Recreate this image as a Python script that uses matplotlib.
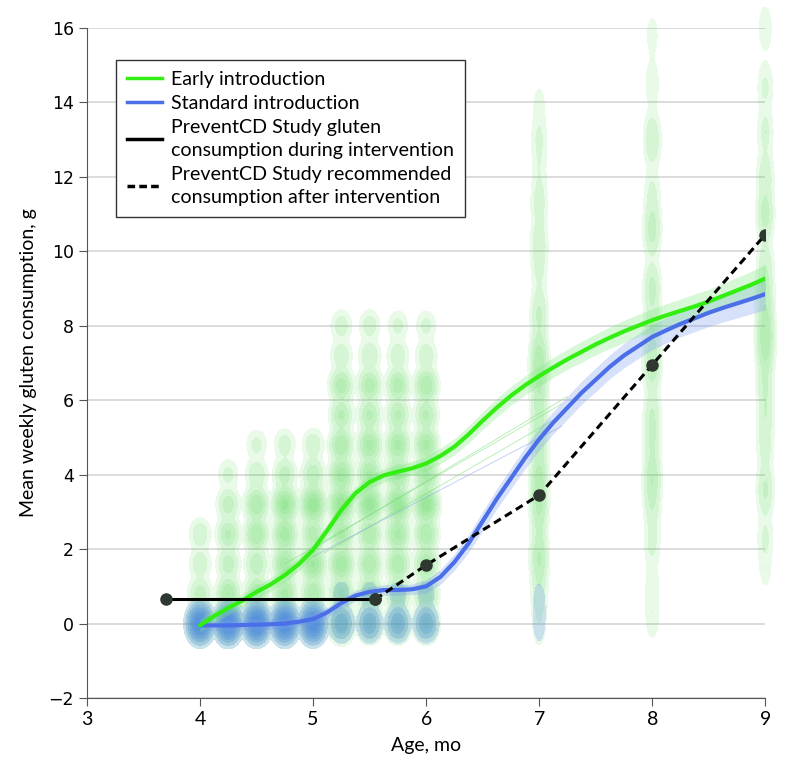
import numpy as np
import matplotlib
matplotlib.use("Agg")
import matplotlib.pyplot as plt
from matplotlib.lines import Line2D

plt.rcParams['font.family'] = ['Lato', 'DejaVu Sans']

## Data
# observed weekly gluten amounts per visit age: (value, relative count)
early_obs = {
    4.0: [(0, 10), (0.8, 1), (1.6, 0.5), (2.4, 0.5)],
    4.25: [(0, 10), (0.8, 2.5), (1.6, 1), (2.4, 1.5), (3.2, 1), (4.0, 0.3)],
    4.5: [(0, 10), (0.8, 2.5), (1.6, 1.2), (2.4, 2.5), (3.2, 2.5), (4.0, 0.6), (4.8, 0.3)],
    4.75: [(0, 9), (0.8, 3), (1.6, 3.5), (2.4, 3.5), (3.2, 5), (4.0, 1), (4.8, 0.4)],
    5.0: [(0, 8), (0.8, 2.5), (1.6, 4.5), (2.4, 2), (3.2, 6), (4.0, 1.2), (4.8, 0.5)],
    5.25: [(0, 4), (0.8, 3), (1.6, 4), (2.4, 3), (3.2, 6), (4.0, 3.5), (4.8, 2.5), (5.6, 1.5), (6.4, 2), (7.2, 0.5), (8.0, 0.4)],
    5.5: [(0, 3), (0.8, 3), (1.6, 2.5), (2.4, 2.5), (3.2, 6), (4.0, 3), (4.8, 3), (5.6, 1.5), (6.4, 2), (7.2, 0.6), (8.0, 0.4)],
    5.75: [(0, 3), (0.8, 2.5), (1.6, 2.5), (2.4, 3), (3.2, 6), (4.0, 3), (4.8, 3), (5.6, 1.5), (6.4, 2), (7.2, 0.5), (8.0, 0.3)],
    6.0: [(0, 3), (0.8, 2.5), (1.6, 2.5), (2.4, 2.5), (3.2, 6), (4.0, 3), (4.8, 3), (5.6, 1.5), (6.4, 2.5), (7.2, 0.5), (8.0, 0.3)],
    7.0: [(0, 0.15), (0.8, 0.4), (1.7, 1.3), (2.4, 0.4), (3.2, 1.4), (3.9, 1.7), (5.0, 1.1), (5.8, 0.7), (6.5, 1.1),
          (7.1, 1.9), (8.3, 0.7), (9.5, 0.25), (10.2, 0.5), (11.3, 0.4), (12.2, 0.15), (13.0, 0.25), (13.9, 0.1)],
    8.0: [(0.2, 0.15), (1.0, 0.15), (2.2, 0.3), (3.2, 0.5), (3.9, 1.2), (4.9, 0.6), (5.6, 0.6), (7.0, 1.3), (8.0, 0.6),
          (9.0, 0.8), (10.6, 0.9), (11.5, 0.3), (13.0, 0.6), (14.5, 0.15), (15.8, 0.1)],
    9.0: [(1.5, 0.1), (2.3, 0.25), (3.6, 0.7), (4.8, 0.4), (5.6, 0.5), (6.4, 0.6), (7.4, 1.6), (8.0, 1.6), (8.8, 0.9),
          (9.6, 0.5), (11.0, 0.9), (12.0, 0.5), (13.2, 0.3), (14.4, 0.25), (16.0, 0.15)],
}
standard_obs = {
    4.0: [(0, 9)],
    4.25: [(0, 10)],
    4.5: [(0, 10)],
    4.75: [(0, 10)],
    5.0: [(0, 9)],
    5.25: [(0, 1.3), (0.8, 0.15)],
    5.5: [(0, 1.3), (0.8, 0.15)],
    5.75: [(0, 1.3), (0.8, 0.15)],
    6.0: [(0, 1.3), (0.8, 0.15)],
    7.0: [(0, 0.1), (0.6, 0.1)],
    8.0: [(0.3, 0.05), (5.0, 0.05)],
    9.0: [(1.5, 0.05), (6.0, 0.05), (13.2, 0.05)],
}

# smoothed means with confidence band half-widths
age_fit = [4.0, 4.125, 4.25, 4.375, 4.5, 4.625, 4.75, 4.875, 5.0, 5.125, 5.25, 5.375, 5.5, 5.625,
           5.75, 5.875, 6.0, 6.125, 6.25, 6.375, 6.5, 6.625, 6.75, 6.875, 7.0, 7.125, 7.25, 7.375,
           7.5, 7.625, 7.75, 7.875, 8.0, 8.125, 8.25, 8.375, 8.5, 8.625, 8.75, 8.875, 9.0]
early_fit = [-0.05, 0.2, 0.42, 0.62, 0.85, 1.05, 1.3, 1.6, 1.98, 2.5, 3.05, 3.5, 3.8, 3.98,
             4.08, 4.17, 4.3, 4.5, 4.75, 5.08, 5.45, 5.8, 6.12, 6.4, 6.65, 6.88, 7.1, 7.3,
             7.5, 7.68, 7.85, 8.0, 8.15, 8.28, 8.4, 8.52, 8.65, 8.8, 8.95, 9.1, 9.27]
early_ci = [0.18, 0.18, 0.18, 0.18, 0.18, 0.18, 0.18, 0.18, 0.18, 0.18, 0.18, 0.18, 0.18, 0.18,
            0.18, 0.18, 0.2, 0.21, 0.22, 0.23, 0.24, 0.25, 0.25, 0.26, 0.26, 0.27, 0.27, 0.28,
            0.28, 0.29, 0.3, 0.3, 0.31, 0.31, 0.32, 0.33, 0.33, 0.34, 0.35, 0.36, 0.38]
standard_fit = [-0.05, -0.05, -0.05, -0.04, -0.03, -0.02, 0.0, 0.05, 0.12, 0.3, 0.55, 0.75, 0.85, 0.9,
                0.9, 0.92, 1.0, 1.25, 1.65, 2.15, 2.75, 3.35, 3.9, 4.45, 4.95, 5.4, 5.8, 6.2,
                6.55, 6.9, 7.2, 7.45, 7.7, 7.88, 8.05, 8.2, 8.35, 8.48, 8.6, 8.72, 8.85]
standard_ci = [0.14, 0.14, 0.14, 0.14, 0.14, 0.14, 0.14, 0.14, 0.14, 0.14, 0.14, 0.14, 0.14, 0.14,
               0.14, 0.14, 0.18, 0.2, 0.22, 0.24, 0.26, 0.27, 0.28, 0.29, 0.3, 0.3, 0.31, 0.31,
               0.32, 0.32, 0.33, 0.33, 0.34, 0.34, 0.35, 0.36, 0.37, 0.38, 0.39, 0.4, 0.42]

# faint individual trend lines
faint_early = [([4.75, 7.2], [1.6, 5.9]), ([5.0, 7.25], [2.0, 6.1]), ([5.1, 7.2], [1.9, 5.6])]
faint_standard = [([5.0, 7.2], [1.8, 5.3])]

# PreventCD study reference
during_x = [3.7, 5.55]
during_y = [0.65, 0.65]
after_x = [5.55, 6.0, 7.0, 8.0, 9.0]
after_y = [0.65, 1.57, 3.45, 6.95, 10.45]


def density(obs, X, Y):
    Z = np.zeros_like(X)
    for age, pts in obs.items():
        bx, by = (0.045, 0.21) if age <= 6 else (0.036, 0.38)
        for val, cnt in pts:
            Z += cnt * np.exp(-0.5 * ((X - age) / bx) ** 2 - 0.5 * ((Y - val) / by) ** 2)
    return Z


fig = plt.figure(figsize=(7.98, 7.77), dpi=100)
ax = fig.add_axes([0.109, 0.1017, 0.85, 0.8623])

gx = np.linspace(3.6, 9.4, 700)
gy = np.linspace(-1.5, 16.9, 900)
X, Y = np.meshgrid(gx, gy)

fracs = [0.005, 0.02, 0.06, 0.13, 0.25, 0.42, 0.65]
for obs, color, alpha in [(early_obs, '#4cd84c', 0.12), (standard_obs, '#4a7ff2', 0.2)]:
    Z = density(obs, X, Y)
    zmax = Z.max()
    for f in fracs:
        cs = ax.contourf(X, Y, Z, levels=[f * zmax, zmax * 10], colors=[color], alpha=alpha, zorder=2)
        cs.set_clip_on(False)

for xs, ys in faint_early:
    ax.plot(xs, ys, color='#7ee07e', lw=0.6, alpha=0.6, zorder=3)
for xs, ys in faint_standard:
    ax.plot(xs, ys, color='#8fa6e8', lw=0.6, alpha=0.6, zorder=3)

fx = np.array(age_fit)
ey, ec = np.array(early_fit), np.array(early_ci)
sy, sc = np.array(standard_fit), np.array(standard_ci)
ax.fill_between(fx, sy - sc, sy + sc, color='#7d9cf0', alpha=0.3, lw=0, zorder=4)
ax.fill_between(fx, ey - ec, ey + ec, color='#7de87d', alpha=0.3, lw=0, zorder=4)
ax.plot(fx, sy, color='#4a6fe8', lw=3, zorder=5, solid_capstyle='round', solid_joinstyle='round')
ax.plot(fx, ey, color='#33ee11', lw=3, zorder=5, solid_capstyle='round', solid_joinstyle='round')

ax.plot(during_x, during_y, color='black', lw=2.2, marker='o', ms=8, mfc='#2e3830', mec='#2e3830', zorder=6)
ax.plot(after_x, after_y, color='black', lw=2.2, ls=(0, (2.6, 1.6)), marker='o', ms=8,
        mfc='#2e3830', mec='#2e3830', zorder=6)

ax.set_xlim(3, 9)
ax.set_ylim(-2, 16)
ax.set_xticks(range(3, 10))
ax.set_yticks(range(-2, 17, 2))
ax.yaxis.grid(True, color='#d6d6d6', lw=1.2)
ax.set_axisbelow(True)
for s in ['top', 'right']:
    ax.spines[s].set_visible(False)
for s in ['left', 'bottom']:
    ax.spines[s].set_color('#555555')
ax.tick_params(axis='both', direction='out', length=6, color='#555555', labelsize=14)
for lab in ax.get_yticklabels():
    lab.set_family(['DejaVu Sans'])
    lab.set_fontsize(12.5)
ax.set_xlabel('Age, mo', fontsize=14, labelpad=6)
ax.set_ylabel('Mean weekly gluten consumption, g', fontsize=14, labelpad=8)

# legend with line handles only
handles = [
    Line2D([], [], color='#33ee11', lw=2.5),
    Line2D([], [], color='#4a6fe8', lw=2.5),
    Line2D([], [], color='black', lw=2.5),
    Line2D([], [], color='black', lw=2.5, ls=(0, (2.2, 1.2))),
]
labels = ['Early introduction', 'Standard introduction',
          'PreventCD Study gluten\nconsumption during intervention',
          'PreventCD Study recommended\nconsumption after intervention']
leg = ax.legend(handles, labels, loc='upper left', bbox_to_anchor=(0.043, 0.952), borderaxespad=0,
                fontsize=14.1, frameon=True, fancybox=False, edgecolor='#333333', framealpha=1,
                handlelength=1.8, borderpad=0.55, labelspacing=0.35, handletextpad=0.45)
for t in leg.get_texts():
    t.set_linespacing(1.45)
leg.get_frame().set_linewidth(1.0)
leg.set_zorder(10)

fig.savefig('out.png', dpi=100)
